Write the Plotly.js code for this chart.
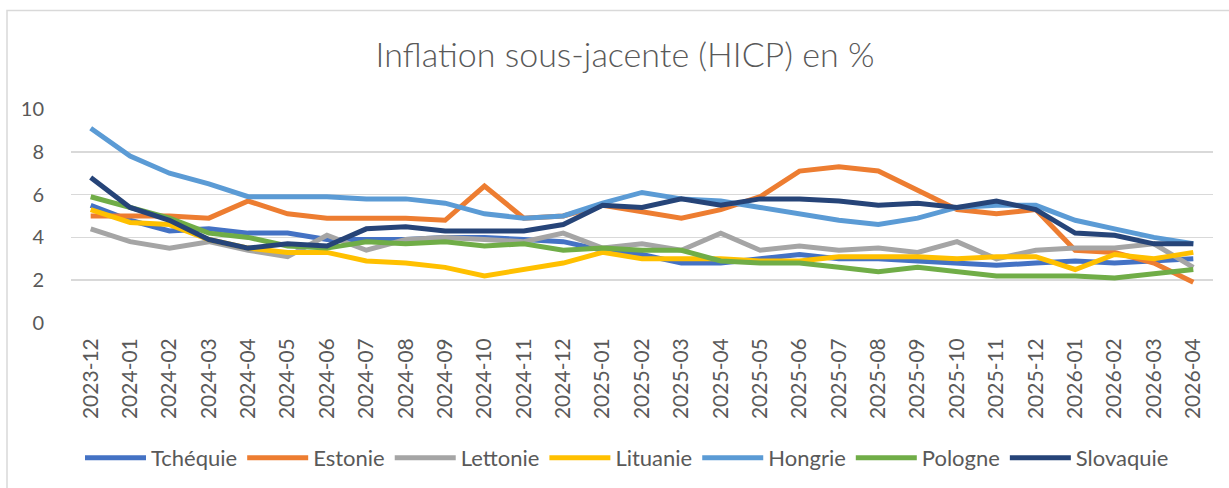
<!DOCTYPE html>
<html>
<head>
<meta charset="utf-8">
<script src="https://cdn.plot.ly/plotly-3.0.1.min.js"></script>
<style>
html,body{margin:0;padding:0;background:#fff;}
#chart{width:1229px;height:488px;}
</style>
</head>
<body>
<div id="chart"></div>
<script>
const months = ["2023-12","2024-01","2024-02","2024-03","2024-04","2024-05","2024-06","2024-07","2024-08","2024-09","2024-10","2024-11","2024-12","2025-01","2025-02","2025-03","2025-04","2025-05","2025-06","2025-07","2025-08","2025-09","2025-10","2025-11","2025-12","2026-01","2026-02","2026-03","2026-04"];

const tchequie  = [5.5,4.8,4.3,4.4,4.2,4.2,3.9,3.9,3.9,4.0,4.0,3.9,3.8,3.4,3.2,2.8,2.8,3.0,3.2,3.0,3.0,2.9,2.8,2.7,2.8,2.9,2.8,2.9,3.0];
const estonie   = [5.0,5.0,5.0,4.9,5.7,5.1,4.9,4.9,4.9,4.8,6.4,4.9,5.0,5.5,5.2,4.9,5.3,5.9,7.1,7.3,7.1,6.2,5.3,5.1,5.3,3.4,3.3,2.8,1.9];
const lettonie  = [4.4,3.8,3.5,3.8,3.4,3.1,4.1,3.4,3.9,4.0,3.9,3.8,4.2,3.5,3.7,3.4,4.2,3.4,3.6,3.4,3.5,3.3,3.8,3.0,3.4,3.5,3.5,3.7,2.6];
const lituanie  = [5.3,4.7,4.6,3.9,3.5,3.3,3.3,2.9,2.8,2.6,2.2,2.5,2.8,3.3,3.0,3.0,3.0,2.9,2.9,3.1,3.1,3.1,3.0,3.1,3.1,2.5,3.2,3.0,3.3];
const hongrie   = [9.1,7.8,7.0,6.5,5.9,5.9,5.9,5.8,5.8,5.6,5.1,4.9,5.0,5.6,6.1,5.8,5.7,5.4,5.1,4.8,4.6,4.9,5.4,5.5,5.5,4.8,4.4,4.0,3.7];
const pologne   = [5.9,5.4,4.9,4.2,4.0,3.6,3.5,3.8,3.7,3.8,3.6,3.7,3.4,3.5,3.4,3.4,2.9,2.8,2.8,2.6,2.4,2.6,2.4,2.2,2.2,2.2,2.1,2.3,2.5];
const slovaquie = [6.8,5.4,4.8,3.9,3.5,3.7,3.6,4.4,4.5,4.3,4.3,4.3,4.6,5.5,5.4,5.8,5.5,5.8,5.8,5.7,5.5,5.6,5.4,5.7,5.3,4.2,4.1,3.7,3.7];

const seriesNames = ["Tchéquie","Estonie","Lettonie","Lituanie","Hongrie","Pologne","Slovaquie"];
const seriesData = [tchequie, estonie, lettonie, lituanie, hongrie, pologne, slovaquie];
const colors = ["#4472C4","#ED7D31","#A5A5A5","#FFC000","#5B9BD5","#70AD47","#264478"];

const traces = seriesNames.map((n,i)=>({
  type:'scatter', mode:'lines', name:n, x:months, y:seriesData[i],
  line:{color:colors[i], width:5, shape:'linear'},
  hoverinfo:'x+y+name'
}));

const FONT = "Lato, 'Open Sans', sans-serif";
const L = 71, R = 16, T = 109, B = 165;
const W = 1229, H = 488;
const pw = W - L - R, ph = H - T - B;
function px2x(p){ return (p - L) / pw; }
function px2y(p){ return (H - B - p) / ph; }

const layout = {
  width: W, height: H,
  margin:{l:L, r:R, t:T, b:B, pad:0},
  paper_bgcolor:'#ffffff', plot_bgcolor:'#ffffff',
  font:{family:FONT, color:'#595959'},
  title:{text:'Inflation sous-jacente (HICP) en %', font:{family:FONT, size:34, color:'#595959', weight:300},
         x:625/W, xanchor:'center', xref:'container', y:1-55/H, yanchor:'middle', yref:'container'},
  xaxis:{type:'category', range:[-0.5, 28.5], showgrid:false, zeroline:false, showline:false,
         ticks:'', tickangle:-90, tickfont:{family:FONT, size:21, color:'#595959'},
         ticklabelstandoff:10, fixedrange:true},
  yaxis:{range:[0,10], dtick:2, tick0:0, showgrid:true, gridcolor:'#d9d9d9', gridwidth:1.5,
         zeroline:false, showline:false, ticks:'', tickfont:{family:FONT, size:20, color:'#595959'},
         ticklabelstandoff:26, fixedrange:true},
  showlegend:true,
  legend:{orientation:'h', x:627/W, xref:'container', xanchor:'center', y:1-458/H, yref:'container', yanchor:'middle',
          font:{family:FONT, size:22, color:'#595959'}, itemwidth:61, bgcolor:'rgba(0,0,0,0)', traceorder:'normal'},
  shapes:[{type:'rect', xref:'paper', yref:'paper', x0:px2x(7), x1:px2x(1240), y0:px2y(500), y1:px2y(10.5),
           line:{color:'#d9d9d9', width:1.5}, fillcolor:'rgba(0,0,0,0)', layer:'below'}]
};

Plotly.newPlot('chart', traces, layout, {displayModeBar:false, staticPlot:true});
</script>
</body>
</html>
